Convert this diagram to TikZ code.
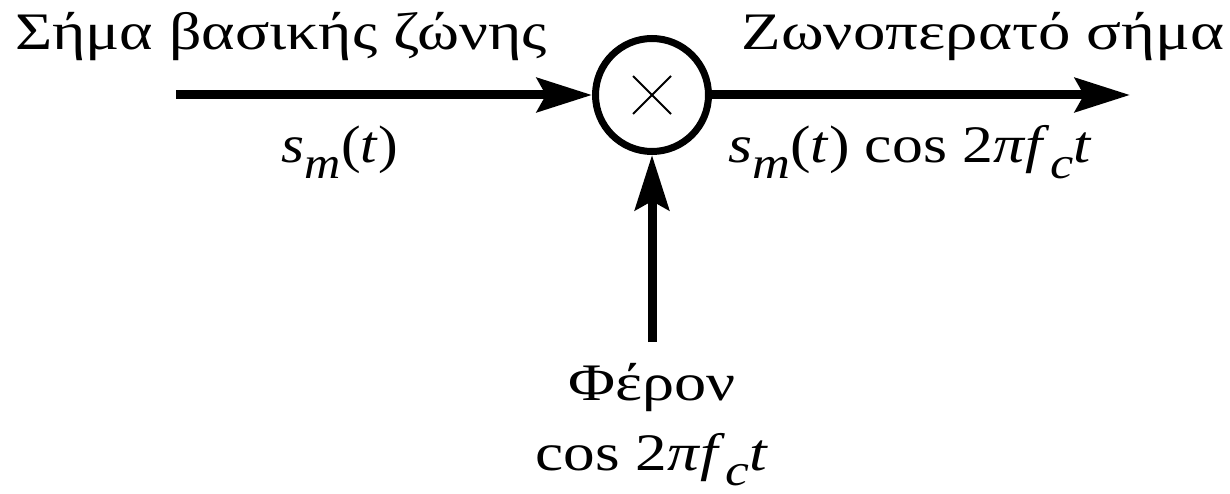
\documentclass[tikz,border=0pt]{standalone}
\usepackage{fontspec}
\setmainfont{Liberation Serif}
\usetikzlibrary{arrows.meta,calc}
\newcommand{\lowsub}[1]{\raisebox{-0.3em}{\scalebox{0.85}{\itshape #1}}}
\newcommand{\wide}[2]{\scalebox{#1}[1]{#2}}
\tikzset{
  lbl/.style={anchor=base, inner sep=0pt, font=\fontsize{30}{36}\selectfont},
  sig/.style={line width=0.18cm, -{Stealth[length=1.1cm, width=0.68cm, inset=0.18cm]}},
  mixer/.style={circle, draw, line width=0.14cm, minimum size=2.26cm, inner sep=0pt},
}
\begin{document}
\begin{tikzpicture}
\useasboundingbox (0,0) rectangle (24.6,-9.88);
\node[mixer] (mul) at (13.04,-1.9) {};
\draw[line width=0.04cm] ($(mul.center)+(-0.38,0.38)$) -- ($(mul.center)+(0.38,-0.38)$);
\draw[line width=0.04cm] ($(mul.center)+(-0.38,-0.38)$) -- ($(mul.center)+(0.38,0.38)$);
\coordinate (in) at (3.52,-1.9);
\coordinate (out) at (22.6,-1.9);
\coordinate (car) at (13.04,-6.84);
\draw[sig] (in) -- (mul.west);
\draw[sig] (mul.east) -- (out);
\draw[sig] (car) -- (mul.south);
\node[lbl] (t1) at (5.62,-1.0) {\wide{1.21}{Σήμα βασικής ζώνης}};
\node[lbl] (t2) at (19.66,-1.0) {\wide{1.23}{Ζωνοπερατό σήμα}};
\node[lbl] (e1) at (6.8,-3.26) {\wide{1.12}{\textit{s}\lowsub{m}(\textit{t})}};
\node[lbl] (e2) at (18.2,-3.26) {\wide{1.17}{\textit{s}\lowsub{m}(\textit{t}) cos 2\textit{π}\textit{f}\lowsub{c}\textit{t}}};
\node[lbl] (t3) at (13.04,-8.0) {\wide{1.22}{Φέρον}};
\node[lbl] (e3) at (13.04,-9.4) {\wide{1.2}{cos 2\textit{π}\textit{f}\lowsub{c}\textit{t}}};
\end{tikzpicture}
\end{document}
